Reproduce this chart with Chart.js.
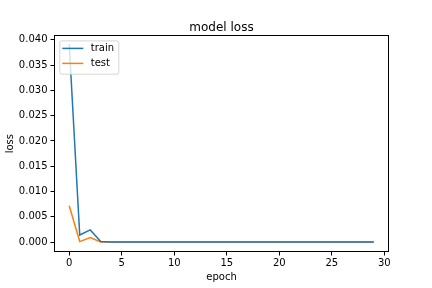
<!DOCTYPE html>
<html>
<head>
<meta charset="utf-8">
<script src="https://cdn.jsdelivr.net/npm/chart.js@4/dist/chart.umd.min.js"></script>
<style>
html,body{margin:0;padding:0;background:#fff;}
#wrap{width:432px;height:288px;position:relative;}
</style>
</head>
<body>
<div id="wrap"><canvas id="c" width="432" height="288"></canvas></div>
<script>
const epochs = [0,1,2,3,4,5,6,7,8,9,10,11,12,13,14,15,16,17,18,19,20,21,22,23,24,25,26,27,28,29];
const trainLoss = [0.0391,0.0014,0.0024,0.0001,0.00002,0.00001,0.00001,0.00001,0.00001,0.00001,0.00001,0.00001,0.00001,0.00001,0.00001,0.00001,0.00001,0.00001,0.00001,0.00001,0.00001,0.00001,0.00001,0.00001,0.00001,0.00001,0.00001,0.00001,0.00001,0.00001];
const testLoss = [0.0072,0.0001,0.0009,0.00002,0.00001,0.00001,0.00001,0.00001,0.00001,0.00001,0.00001,0.00001,0.00001,0.00001,0.00001,0.00001,0.00001,0.00001,0.00001,0.00001,0.00001,0.00001,0.00001,0.00001,0.00001,0.00001,0.00001,0.00001,0.00001,0.00001];
const xTicks = [0,5,10,15,20,25,30];
const yTicks = [0.000,0.005,0.010,0.015,0.020,0.025,0.030,0.035,0.040];
const seriesNames = ['train','test'];

const FONT = 'DejaVu Sans';

const framePlugin = {
  id: 'frame',
  afterDatasetsDraw(chart) {
    const {ctx, chartArea: a} = chart;
    ctx.save();
    ctx.strokeStyle = '#000';
    ctx.lineWidth = 1;
    ctx.strokeRect(Math.round(a.left) + 0.5, Math.round(a.top) + 0.5, Math.round(a.right - a.left) - 1, Math.round(a.bottom - a.top) - 1);
    // legend (matplotlib style, upper left)
    const bx = a.left + 5.3, by = a.top + 5, bw = 59, bh = 33.3;
    ctx.beginPath();
    if (ctx.roundRect) ctx.roundRect(bx + 0.5, by + 0.5, bw, bh, 2); else ctx.rect(bx + 0.5, by + 0.5, bw, bh);
    ctx.fillStyle = 'rgba(255,255,255,0.8)';
    ctx.fill();
    ctx.strokeStyle = 'rgba(204,204,204,0.8)';
    ctx.lineWidth = 1;
    ctx.stroke();
    ctx.font = '10px "' + FONT + '"';
    ctx.textBaseline = 'middle';
    ctx.textAlign = 'left';
    chart.data.datasets.forEach((ds, i) => {
      const y = by + 8 + i * 15;
      ctx.strokeStyle = ds.borderColor;
      ctx.lineWidth = 1.5;
      ctx.beginPath();
      ctx.moveTo(bx + 3, y);
      ctx.lineTo(bx + 24, y);
      ctx.stroke();
      ctx.fillStyle = '#000';
      ctx.fillText(ds.label, bx + 31.5, y);
    });
    ctx.restore();
  }
};

new Chart(document.getElementById('c'), {
  type: 'line',
  data: {
    labels: epochs,
    datasets: [
      {label: seriesNames[0], data: epochs.map((e, i) => ({x: e, y: trainLoss[i]})), borderColor: '#1f77b4', backgroundColor: '#1f77b4', borderWidth: 1.5, pointRadius: 0, tension: 0, fill: false},
      {label: seriesNames[1], data: epochs.map((e, i) => ({x: e, y: testLoss[i]})), borderColor: '#ff7f0e', backgroundColor: '#ff7f0e', borderWidth: 1.5, pointRadius: 0, tension: 0, fill: false}
    ]
  },
  options: {
    responsive: false,
    animation: false,
    devicePixelRatio: 1,
    layout: {padding: {left: 0, right: 43, top: 0, bottom: 0}},
    plugins: {
      legend: {display: false},
      tooltip: {enabled: false},
      title: {
        display: true, text: 'model loss', fullSize: false, color: '#000',
        font: {family: FONT, size: 12, weight: 'normal', lineHeight: 1.2},
        padding: {top: 20.6, bottom: 0.4}
      }
    },
    scales: {
      x: {
        type: 'linear', min: -1.45, max: 30.45,
        afterBuildTicks: s => { s.ticks = xTicks.map(v => ({value: v})); },
        afterFit: s => { s.height = 36; },
        grid: {display: true, drawOnChartArea: false, drawTicks: true, tickLength: 3.5, tickColor: '#000', color: '#000', lineWidth: 1},
        border: {display: false},
        ticks: {color: '#000', font: {family: FONT, size: 10}, padding: 2, maxRotation: 0, autoSkip: false, callback: v => String(v)},
        title: {display: true, text: 'epoch', color: '#000', font: {family: FONT, size: 10, lineHeight: 1.2}, padding: {top: 0, bottom: 5}}
      },
      y: {
        type: 'linear', min: -0.00196, max: 0.04086,
        afterBuildTicks: s => { s.ticks = yTicks.map(v => ({value: v})); },
        afterFit: s => { s.width = 54; },
        grid: {display: true, drawOnChartArea: false, drawTicks: true, tickLength: 3.5, tickColor: '#000', color: '#000', lineWidth: 1},
        border: {display: false},
        ticks: {color: '#000', font: {family: FONT, size: 10}, padding: 3, autoSkip: false, callback: v => Number(v).toFixed(3)},
        title: {display: true, text: 'loss', color: '#000', font: {family: FONT, size: 10, lineHeight: 1.2}, padding: {top: 4, bottom: 0}}
      }
    }
  },
  plugins: [framePlugin]
});
</script>
</body>
</html>
